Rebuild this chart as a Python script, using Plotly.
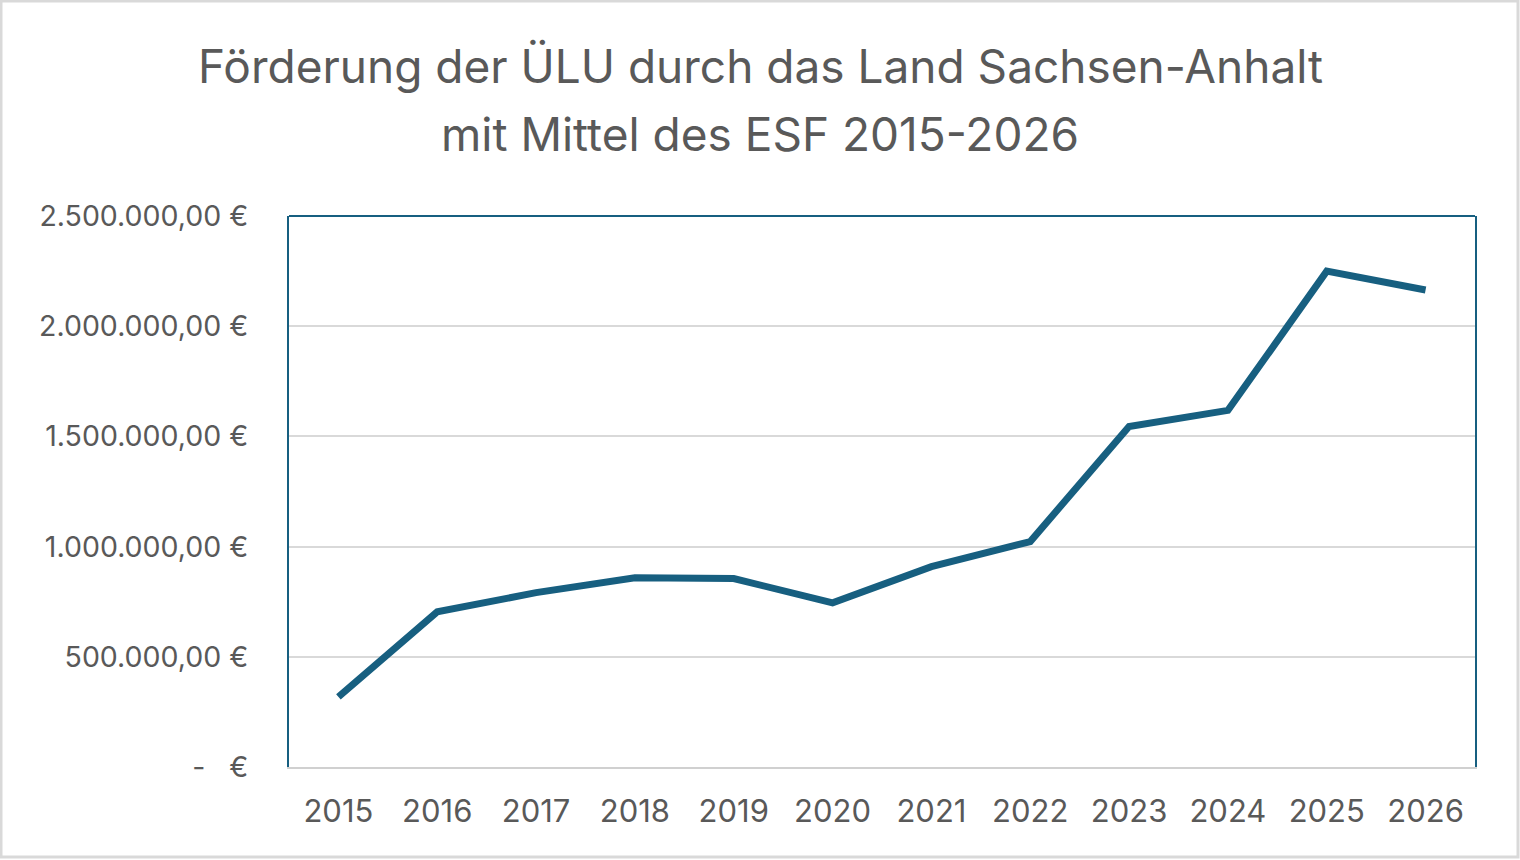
import plotly.graph_objects as go

years = ["2015", "2016", "2017", "2018", "2019", "2020", "2021", "2022", "2023", "2024", "2025", "2026"]
values = [318000, 704000, 791000, 859000, 855000, 745000, 909000, 1023000, 1545000, 1618000, 2250000, 2164000]
ytick_vals = [0, 500000, 1000000, 1500000, 2000000, 2500000]
ytick_text = ["-\u00a0\u00a0\u00a0€", "500.000,00\u00a0€", "1.000.000,00\u00a0€", "1.500.000,00\u00a0€",
              "2.000.000,00\u00a0€", "2.500.000,00\u00a0€"]
title_lines = ["Förderung der ÜLU durch das Land Sachsen-Anhalt", "mit Mittel des ESF 2015-2026"]

BLUE = "#175f80"
GRAY_TXT = "#595959"
FONT = "Inter, 'Open Sans', sans-serif"

fig = go.Figure()
fig.add_trace(go.Scatter(
    x=years, y=values, mode="lines",
    line=dict(color=BLUE, width=7),
    hoverinfo="x+y", showlegend=False,
))

L, R, T, B = 289, 45, 216, 93
W, H = 1520, 860
pw, ph = W - L - R, H - T - B

def py(pix):
    # pixel y (from top) -> paper y
    return (H - B - pix) / ph

annotations = [
    dict(text=title_lines[0], xref="paper", yref="paper", x=(760 - L) / pw, y=py(66),
         xanchor="center", yanchor="middle", showarrow=False,
         font=dict(family=FONT, size=46, color=GRAY_TXT)),
    dict(text=title_lines[1], xref="paper", yref="paper", x=(760 - L) / pw, y=py(134),
         xanchor="center", yanchor="middle", showarrow=False,
         font=dict(family=FONT, size=46, color=GRAY_TXT)),
]

fig.update_layout(
    width=W, height=H,
    margin=dict(l=L, r=R, t=T, b=B),
    paper_bgcolor="white", plot_bgcolor="white",
    font=dict(family=FONT, color=GRAY_TXT),
    annotations=annotations,
    xaxis=dict(
        type="category", range=[-0.5, 11.5],
        showgrid=False, showline=True, linecolor="#d0d0d0", linewidth=2,
        ticks="", tickfont=dict(size=31, color=GRAY_TXT), ticklabelstandoff=16,
        zeroline=False,
    ),
    yaxis=dict(
        range=[0, 2500000], tickvals=ytick_vals, ticktext=ytick_text,
        showgrid=True, gridcolor="#d9d9d9", gridwidth=2,
        showline=True, linecolor=BLUE, linewidth=2, mirror=True,
        ticks="", tickfont=dict(size=28.5, color=GRAY_TXT), ticklabelstandoff=33,
        zeroline=False,
    ),
    shapes=[
        dict(type="line", xref="paper", yref="paper", x0=0, x1=1, y0=1, y1=1,
             line=dict(color=BLUE, width=2)),
        dict(type="rect", xref="paper", yref="paper",
             x0=-(L - 1) / pw, x1=1 + (R - 2) / pw, y0=-(B - 3) / ph, y1=1 + (T - 1) / ph,
             line=dict(color="#d9d9d9", width=3)),
    ],
)

fig.write_html("out.html")
